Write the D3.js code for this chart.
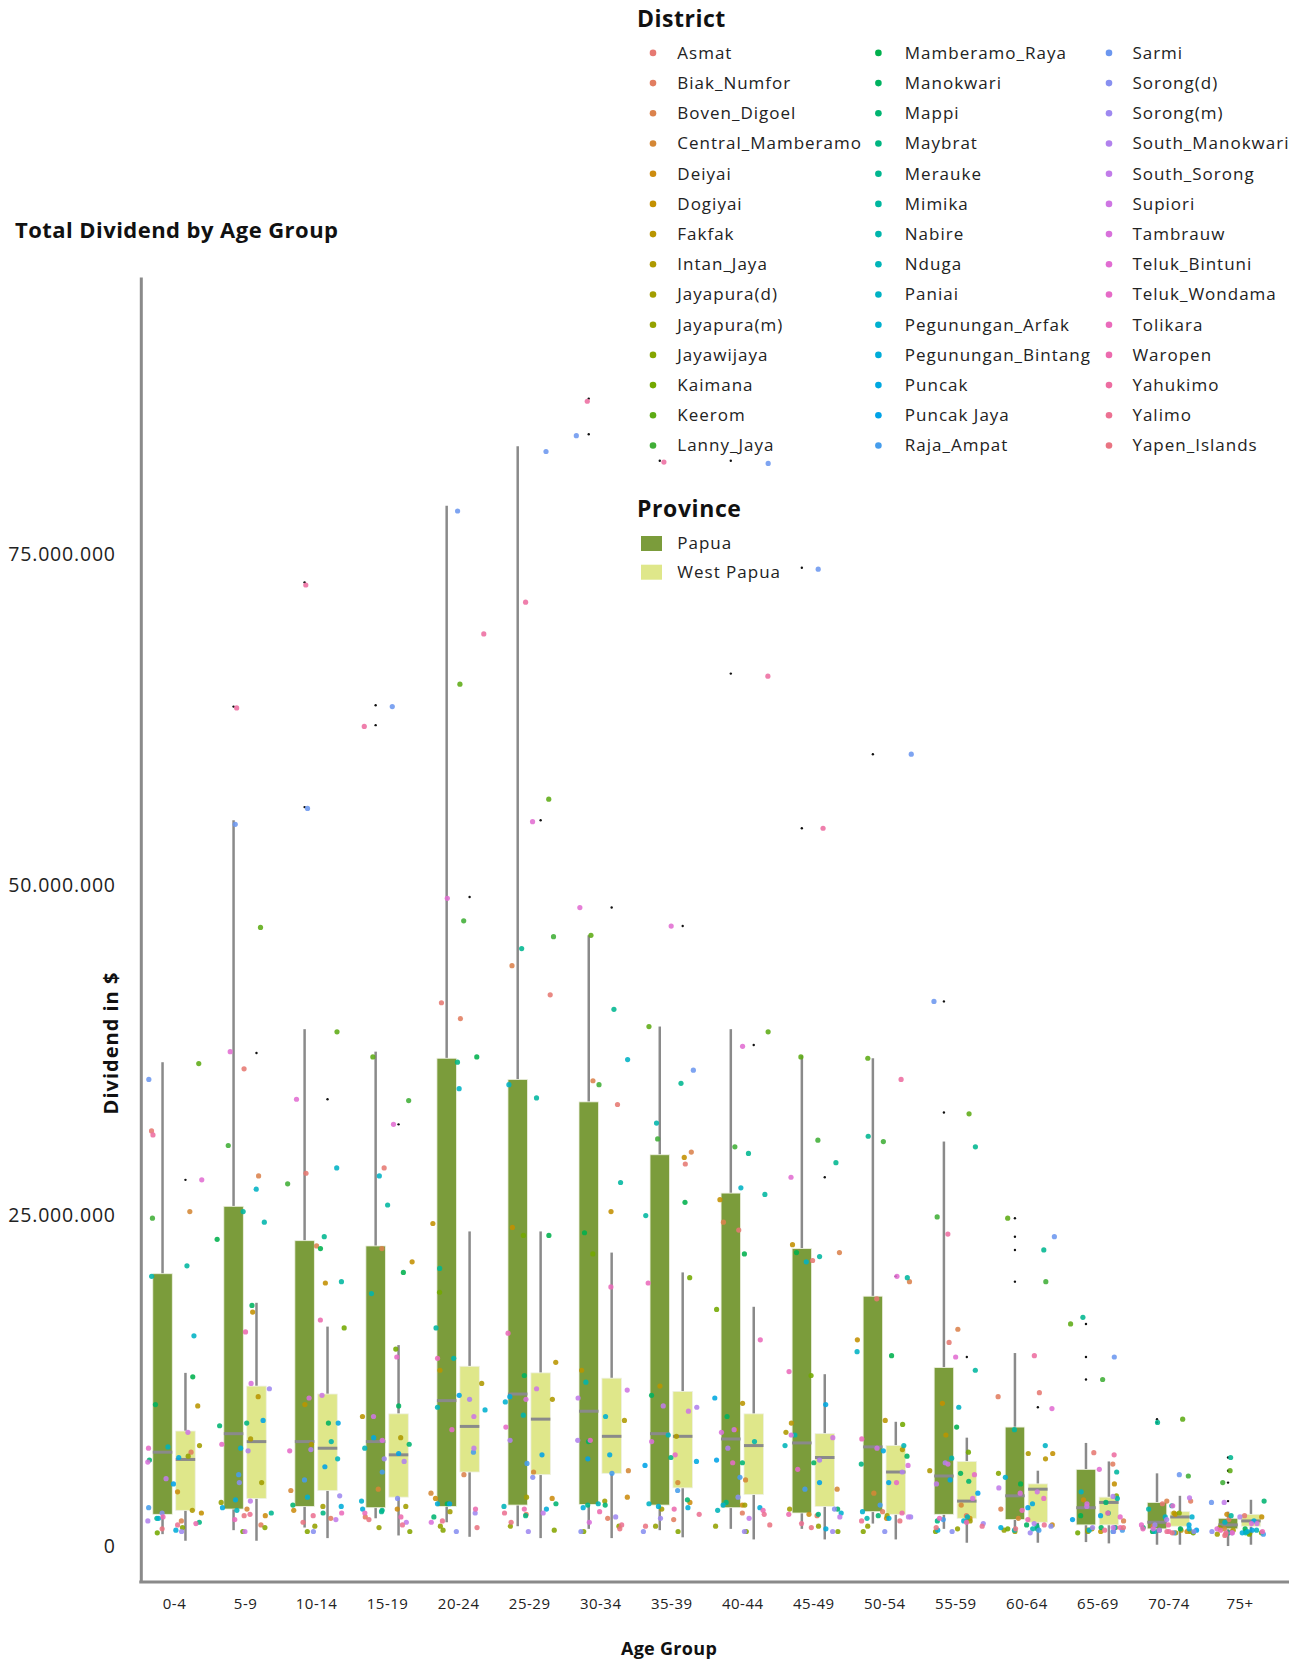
<!DOCTYPE html>
<html>
<head>
<meta charset="utf-8">
<script src="https://cdn.jsdelivr.net/npm/d3@7"></script>
<style>
  body { margin: 0; background: #fff; }
  svg { display: block; font-family: "Open Sans", "Lato", sans-serif; }
</style>
</head>
<body>
<svg id="chart" width="1306" height="1659"></svg>
<script>
// ---- categories ----
const ageGroups = ["0-4","5-9","10-14","15-19","20-24","25-29","30-34","35-39","40-44","45-49","50-54","55-59","60-64","65-69","70-74","75+"];
const provinces = ["Papua", "West Papua"];
const districts = ["Asmat","Biak_Numfor","Boven_Digoel","Central_Mamberamo","Deiyai","Dogiyai","Fakfak","Intan_Jaya","Jayapura(d)","Jayapura(m)","Jayawijaya","Kaimana","Keerom","Lanny_Jaya","Mamberamo_Raya","Manokwari","Mappi","Maybrat","Merauke","Mimika","Nabire","Nduga","Paniai","Pegunungan_Arfak","Pegunungan_Bintang","Puncak","Puncak Jaya","Raja_Ampat","Sarmi","Sorong(d)","Sorong(m)","South_Manokwari","South_Sorong","Supiori","Tambrauw","Teluk_Bintuni","Teluk_Wondama","Tolikara","Waropen","Yahukimo","Yalimo","Yapen_Islands"];

// ---- total dividend per district (millions of $), one array per age group, district order ----
const div0_4   = [31.4,7.1,1.9,25.3,4.1,2.5,10.6,2.7,7.6,6.8,1.4,1.0,36.5,24.8,12.8,10.7,6.5,1.8,2.1,21.2,20.4,7.5,15.9,2.1,1.2,6.7,4.7,2.9,35.3,2.5,1.1,1.9,5.1,8.6,6.35,27.7,7.4,2.2,1.7,31.1,1.6,1.3];
const div5_9   = [36.1,1.6,28.0,2.8,2.3,17.7,11.3,8.1,4.8,3.3,1.4,1.1,46.8,30.3,23.2,18.2,9.1,9.3,2.5,25.3,24.5,2.7,27.0,7.4,3.5,2.9,9.5,5.4,54.6,4.8,11.9,7.2,3.4,1.1,12.3,37.4,7.7,2.0,16.2,63.4,2.4,2.3];
const div10_14 = [28.2,2.1,22.7,4.2,2.7,19.9,10.7,7.7,3.0,1.5,1.1,16.5,38.9,27.4,22.5,9.3,3.1,2.5,23.4,20.0,7.9,6.6,28.6,3.7,3.0,9.3,6.0,5.0,55.8,1.1,3.8,7.3,2.0,11.4,11.2,33.8,7.2,2.5,17.1,72.7,2.3,1.8];
const div15_19 = [28.6,2.2,22.5,4.3,2.8,21.5,9.8,8.2,3.0,1.4,1.1,14.9,37.0,33.7,20.7,10.6,7.7,2.7,2.6,25.8,19.1,7.4,28.0,3.4,2.8,8.2,7.0,5.6,63.5,3.6,6.6,6.4,1.8,9.8,8.0,31.9,14.3,2.5,2.2,62.0,1.6,2.0];
const div20_24 = [41.1,39.9,5.4,4.0,3.6,24.4,13.3,12.3,2.6,1.5,1.2,19.2,65.2,47.3,37.0,3.2,2.2,36.6,21.0,16.5,14.2,10.5,34.6,10.3,3.2,3.2,11.4,7.1,78.3,1.1,2.5,11.1,7.4,9.8,1.8,49.0,8.8,14.2,2.8,69.0,1.9,1.4];
const div25_29 = [41.7,2.4,43.9,5.6,3.6,24.1,13.9,11.1,3.7,1.5,1.2,23.5,56.5,46.1,23.5,12.9,3.2,2.3,45.2,33.9,9.9,3.0,34.9,10.9,2.8,11.3,6.9,6.25,82.8,5.2,1.1,8.0,2.5,11.9,11.1,54.8,9.0,16.1,2.8,71.4,2.5,1.8];
const div30_34 = [33.4,2.1,35.2,5.7,3.7,25.3,13.3,9.5,3.4,1.5,1.1,22.1,46.2,34.9,23.7,7.9,3.1,3.1,40.6,27.5,12.4,3.2,36.8,9.8,2.9,6.9,6.6,5.5,84.0,1.1,2.2,8.0,11.2,11.8,1.8,48.3,8.0,19.6,2.6,86.6,1.6,1.3];
const div35_39 = [28.9,2.0,29.8,4.8,3.3,29.4,12.1,8.3,2.8,1.5,1.1,20.3,39.3,30.8,26.0,11.4,3.5,6.7,35.0,25.0,32.0,8.4,3.2,3.0,2.9,6.4,6.1,4.2,36.0,1.1,2.1,10.5,10.6,10.2,7.9,46.9,6.9,19.9,2.8,82.0,2.4,1.5];
const div40_44 = [23.9,2.5,24.5,5.0,3.1,26.2,10.8,8.8,3.1,1.5,1.1,17.9,38.9,30.2,22.1,9.8,6.3,3.3,29.7,26.6,7.9,2.7,27.1,3.1,2.9,11.2,6.5,5.2,81.9,3.7,1.1,7.4,2.1,8.8,8.6,37.8,6.3,15.6,2.7,65.8,2.4,1.6];
const div45_49 = [21.6,2.3,22.2,4.3,2.4,22.8,9.3,8.6,2.8,1.5,1.1,12.9,37.0,30.7,22.2,6.3,2.8,2.4,29.0,21.9,8.4,7.6,21.5,2.5,1.3,10.7,4.8,4.3,73.9,2.8,1.1,6.5,2.2,8.2,8.4,27.9,5.8,13.2,2.4,54.3,1.7,1.4];
const div50_54 = [18.7,2.6,20.0,4.0,2.1,15.6,9.5,7.3,2.3,1.5,1.1,9.2,36.9,30.6,14.4,6.8,2.3,6.2,31.0,20.3,2.1,7.6,14.7,2.6,2.1,7.2,4.8,3.1,59.9,1.1,2.2,5.6,2.2,7.4,6.1,20.4,4.8,8.1,2.5,35.3,1.9,1.9];
const div55_59 = [15.4,2.3,16.4,3.1,2.1,10.8,8.4,5.7,1.9,1.3,1.1,7.1,32.7,24.9,9.0,5.5,4.9,1.9,30.2,13.3,6.65,2.2,10.5,1.9,1.2,5.0,4.0,2.0,41.2,1.1,1.7,6.3,4.7,6.2,3.6,14.3,5.4,2.1,1.8,23.6,1.5,1.4];
const div60_64 = [11.6,11.3,2.8,2.1,1.6,7.0,6.6,7.0,1.1,1.2,5.5,1.3,24.8,20.0,4.7,1.6,1.3,1.5,22.4,8.8,1.3,1.2,7.6,5.2,1.4,3.2,2.9,1.2,23.4,1.5,1.0,1.7,4.4,4.1,4.0,10.4,3.6,2.7,2.0,14.4,1.6,1.3];
const div65_69 = [7.06,6.2,1.9,1.4,3.5,4.7,1.1,1.3,1.2,1.1,3.8,1.0,16.8,12.6,2.3,1.4,3.3,2.5,17.3,5.6,3.6,1.4,4.1,1.2,1.1,2.3,2.0,1.2,14.3,1.1,1.4,3.75,3.0,1.4,3.2,5.8,2.2,2.5,1.4,6.9,1.2,1.4];
const div70_74 = [3.2,3.4,3.4,1.5,1.1,2.4,2.5,1.2,1.0,1.1,2.5,1.0,9.6,5.3,1.1,1.3,1.4,1.2,9.35,3.05,2.8,1.1,2.2,2.2,1.3,1.6,1.2,1.0,5.4,1.1,1.6,2.0,3.65,1.2,1.3,3.05,1.6,1.3,1.1,1.6,1.1,1.0];
const div75    = [2.3,2.0,1.1,1.3,2.4,2.2,1.0,1.2,0.9,1.4,1.0,0.9,5.7,4.8,1.3,1.1,3.4,1.0,6.7,2.3,1.0,1.2,1.8,1.1,1.0,1.9,1.2,0.9,3.3,1.1,1.0,2.2,3.3,1.7,1.7,1.3,1.0,1.1,1.2,1.0,0.9,0.8];
const dividendRows = [div0_4, div5_9, div10_14, div15_19, div20_24, div25_29, div30_34, div35_39,
                      div40_44, div45_49, div50_54, div55_59, div60_64, div65_69, div70_74, div75];

// ---- box-plot summaries per age group (millions of $) ----
const papuaLow      = [0.9,1.2,1.4,2.1,1.8,1.5,1.3,1.2,1.3,1.3,1.7,1.3,1.2,0.3,0.1,0.0];
const papuaQ1       = [2.4,2.8,3.0,2.9,3.0,3.1,3.15,3.1,2.9,2.5,2.6,2.4,2.0,1.6,1.3,1.3];
const papuaMedian   = [7.1,8.5,7.9,7.9,11.0,11.5,10.2,8.5,8.1,7.8,7.5,5.3,3.8,2.9,1.8,1.6];
const papuaQ3       = [20.6,25.7,23.1,22.7,36.9,35.3,33.6,29.6,26.7,22.5,18.9,13.5,9.0,5.8,3.3,2.1];
const papuaHigh     = [36.6,54.9,39.1,37.4,78.7,83.2,46.2,39.3,39.1,37.1,36.9,30.6,14.6,7.8,5.5,2.6];
const papuaOutliers = [[],[63.5],[72.9,55.9],[63.6,62.1],[],[],[86.8,84.1],[82.1],[82.1,66.0],[74.0,54.3],[59.9],[41.2,32.8],[24.8,23.4,22.4,20.0],[16.8,14.3,12.6],[9.6,9.35],[6.7,5.7,4.8,3.4]];

const wpLow      = [0.4,0.4,0.6,0.8,0.7,0.6,0.6,0.66,0.5,0.5,0.5,0.25,0.25,0.2,0.1,0.1];
const wpQ1       = [2.7,3.6,4.2,3.7,5.6,5.4,5.5,4.4,3.9,3.0,2.4,2.1,1.8,1.6,1.5,1.5];
const wpMedian   = [6.55,7.9,7.4,6.9,9.05,9.6,8.3,8.3,7.6,6.7,5.6,3.4,4.3,3.3,2.2,1.9];
const wpQ3       = [8.7,12.1,11.5,10.0,13.6,13.1,12.7,11.7,10.0,8.5,7.6,6.4,4.7,3.7,2.6,2.4];
const wpHigh     = [13.1,18.4,16.6,15.2,23.8,23.8,22.2,20.7,18.1,13.0,9.4,8.2,5.7,6.4,3.8,3.5];
const wpOutliers = [[27.7],[37.3],[33.8],[31.9],[49.1],[54.9],[48.3],[46.9],[37.9],[27.9],[20.4],[14.3],[10.5],[],[],[]];

const yTicks = [0, 25e6, 50e6, 75e6];

// ---- helpers ----
const M = 1e6;
const FONT = '"Open Sans", "Lato", sans-serif';

// polar CIE-LUV hue palette -> sRGB hex
function hclLuv(h, c, l) {
  const hr = h * Math.PI / 180;
  const U = c * Math.cos(hr), V = c * Math.sin(hr);
  const Xn = 95.047, Yn = 100, Zn = 108.883;
  const un = 4 * Xn / (Xn + 15 * Yn + 3 * Zn), vn = 9 * Yn / (Xn + 15 * Yn + 3 * Zn);
  const Y = l > 8 ? Yn * Math.pow((l + 16) / 116, 3) : Yn * l / 903.3;
  const u = U / (13 * l) + un, v = V / (13 * l) + vn;
  const X = 9 * Y * u / (4 * v), Z = -X / 3 - 5 * Y + 3 * Y / v;
  const xs = X / 100, ys = Y / 100, zs = Z / 100;
  const r = 3.240479 * xs - 1.537150 * ys - 0.498535 * zs;
  const g = -0.969256 * xs + 1.875992 * ys + 0.041556 * zs;
  const b = 0.055648 * xs - 0.204043 * ys + 1.057311 * zs;
  const gam = t => {
    t = t <= 0.0031308 ? 12.92 * t : 1.055 * Math.pow(t, 1 / 2.4) - 0.055;
    return Math.max(0, Math.min(1, t)) * 255;
  };
  return d3.rgb(gam(r), gam(g), gam(b)).formatHex();
}
const districtColor = d3.scaleOrdinal()
  .domain(districts)
  .range(districts.map((d, i) => hclLuv(15 + 360 * i / districts.length, 82, 63)));
const provinceFill = d3.scaleOrdinal().domain(provinces).range(["#7b9c3b", "#dfe78a"]);

// deterministic horizontal spread of the points inside each age group
function spread(i, g) {
  const s = Math.sin((i + 1) * 127.1 + (g + 1) * 311.7) * 43758.5453;
  return (s - Math.floor(s)) * 2 - 1;
}

// ---- scales ----
const svg = d3.select("#chart");
const x = d3.scalePoint().domain(ageGroups).range([174, 1239.5]);
const sub = d3.scaleBand().domain(provinces).range([-21.2, 21.2]).paddingInner(0.15);
const y = d3.scaleLinear().domain([-2.72 * M, 96 * M]).range([1582, 277]);

const GRAY = "#8a8a8a";

// ---- box summaries as records ----
const boxes = [];
ageGroups.forEach((a, g) => {
  boxes.push({ age: a, prov: "Papua", lo: papuaLow[g], q1: papuaQ1[g], med: papuaMedian[g], q3: papuaQ3[g], hi: papuaHigh[g], out: papuaOutliers[g] });
  boxes.push({ age: a, prov: "West Papua", lo: wpLow[g], q1: wpQ1[g], med: wpMedian[g], q3: wpQ3[g], hi: wpHigh[g], out: wpOutliers[g] });
});
const bx = b => x(b.age) + sub(b.prov);
const bw = sub.bandwidth();

// ---- axes ----
const yAxis = svg.append("g")
  .attr("transform", "translate(140.8,0)")
  .call(d3.axisLeft(y).tickValues(yTicks).tickSize(0).tickPadding(25)
    .tickFormat(v => d3.format(",")(v).replace(/,/g, ".")))
  .attr("font-family", FONT);
yAxis.select(".domain").attr("stroke", GRAY).attr("stroke-width", 3);
yAxis.selectAll("text").attr("font-size", 19.5).attr("fill", "#222").attr("letter-spacing", "0.8px");

svg.append("line")
  .attr("x1", 139.3).attr("x2", 1289).attr("y1", 1582).attr("y2", 1582)
  .attr("stroke", GRAY).attr("stroke-width", 3);

const xAxis = svg.append("g")
  .attr("transform", "translate(0,1582)")
  .call(d3.axisBottom(x).tickSize(0).tickPadding(16))
  .attr("font-family", FONT);
xAxis.select(".domain").remove();
xAxis.selectAll("text").attr("font-size", 15).attr("fill", "#222").attr("letter-spacing", "0.5px");

// ---- whiskers ----
const whisk = svg.append("g").attr("stroke", GRAY).attr("stroke-width", 2.5);
whisk.selectAll("line.up").data(boxes).join("line")
  .attr("x1", b => bx(b) + bw / 2).attr("x2", b => bx(b) + bw / 2)
  .attr("y1", b => y(b.q3 * M)).attr("y2", b => y(b.hi * M));
whisk.selectAll("line.down").data(boxes).join("line")
  .attr("x1", b => bx(b) + bw / 2).attr("x2", b => bx(b) + bw / 2)
  .attr("y1", b => y(b.q1 * M)).attr("y2", b => y(b.lo * M));

// ---- boxes ----
svg.append("g").selectAll("rect").data(boxes).join("rect")
  .attr("x", b => bx(b)).attr("width", bw)
  .attr("y", b => y(b.q3 * M)).attr("height", b => y(b.q1 * M) - y(b.q3 * M))
  .attr("fill", b => provinceFill(b.prov))
  .attr("stroke", "#eef0e2").attr("stroke-width", 0.8);

// ---- medians ----
svg.append("g").selectAll("line").data(boxes).join("line")
  .attr("x1", b => bx(b)).attr("x2", b => bx(b) + bw)
  .attr("y1", b => y(b.med * M)).attr("y2", b => y(b.med * M))
  .attr("stroke", GRAY).attr("stroke-width", 3);

// ---- outliers ----
const outs = boxes.flatMap(b => b.out.map(v => ({ b, v })));
svg.append("g").selectAll("circle").data(outs).join("circle")
  .attr("cx", d => bx(d.b) + bw / 2).attr("cy", d => y(d.v * M)).attr("r", 1.2)
  .attr("fill", "#111");

// ---- district points ----
const points = [];
dividendRows.forEach((row, g) => row.forEach((v, i) => points.push({ g, i, v })));
const jw = 0.4 * x.step();
svg.append("g").selectAll("circle").data(points).join("circle")
  .attr("cx", d => x(ageGroups[d.g]) + spread(d.i, d.g) * jw)
  .attr("cy", d => y(d.v * M))
  .attr("r", 2.6)
  .attr("fill", d => districtColor(districts[d.i]))
  .attr("fill-opacity", 0.88);

// ---- titles ----
svg.append("text").attr("x", 15).attr("y", 237.5)
  .attr("font-size", 22).attr("font-weight", 700).attr("fill", "#111").attr("letter-spacing", "0.45px")
  .text("Total Dividend by Age Group");

svg.append("text")
  .attr("transform", "translate(117.5,1043) rotate(-90)")
  .attr("text-anchor", "middle").attr("font-size", 20).attr("font-weight", 700).attr("fill", "#111")
  .attr("letter-spacing", "1px")
  .text("Dividend in $");

svg.append("text").attr("x", 669).attr("y", 1655)
  .attr("text-anchor", "middle").attr("font-size", 18).attr("font-weight", 700).attr("fill", "#111")
  .attr("letter-spacing", "0.3px")
  .text("Age Group");

// ---- legend: District ----
const leg = svg.append("g");
leg.append("text").attr("x", 637).attr("y", 27)
  .attr("font-size", 23).attr("font-weight", 700).attr("fill", "#111").attr("letter-spacing", "0.5px").text("District");
const colDot = [653, 878.4, 1109], colText = [677.3, 904.8, 1132.4];
const rowsPerCol = 14;
const item = leg.selectAll("g.item").data(districts).join("g")
  .attr("transform", (d, i) => `translate(0,${52.9 + (i % rowsPerCol) * 30.2})`);
item.append("circle")
  .attr("cx", (d, i) => colDot[Math.floor(i / rowsPerCol)]).attr("cy", 0).attr("r", 3.3)
  .attr("fill", d => districtColor(d));
item.append("text")
  .attr("x", (d, i) => colText[Math.floor(i / rowsPerCol)]).attr("y", 0)
  .attr("dy", "0.35em").attr("font-size", 17).attr("fill", "#222").attr("letter-spacing", "1px")
  .text(d => d);

// ---- legend: Province ----
leg.append("text").attr("x", 637).attr("y", 517)
  .attr("font-size", 23).attr("font-weight", 700).attr("fill", "#111").attr("letter-spacing", "0.6px").text("Province");
const pItem = leg.selectAll("g.pitem").data(provinces).join("g")
  .attr("transform", (d, i) => `translate(0,${543.5 + i * 28.7})`);
pItem.append("rect").attr("x", 641).attr("y", -7.5).attr("width", 21).attr("height", 15)
  .attr("fill", d => provinceFill(d));
pItem.append("text").attr("x", 677.3).attr("y", 0).attr("dy", "0.35em")
  .attr("font-size", 17).attr("fill", "#222").attr("letter-spacing", "1px").text(d => d);
</script>
</body>
</html>
